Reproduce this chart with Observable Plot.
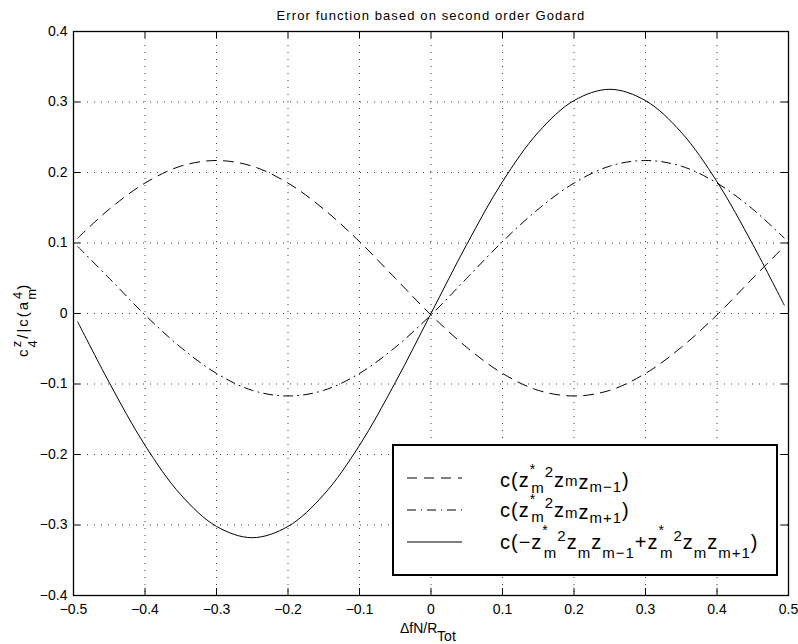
<!DOCTYPE html>
<html><head><meta charset="utf-8">
<script src="https://cdn.jsdelivr.net/npm/d3@7"></script>
<script src="https://cdn.jsdelivr.net/npm/@observablehq/plot@0.6"></script>
<style>body{margin:0;background:#fff}</style>
</head><body><div id="chart"></div>
<script>
const title = "Error function based on second order Godard";
const xs = [-0.494,-0.45,-0.4,-0.35,-0.3,-0.25,-0.2,-0.15,-0.1,-0.05,0,0.05,0.1,0.15,0.2,0.25,0.3,0.35,0.4,0.45,0.494];
const dashedVals  = [0.107,0.148,0.185,0.209,0.217,0.209,0.185,0.148,0.102,0.050,-0.002,-0.048,-0.085,-0.109,-0.117,-0.109,-0.085,-0.048,-0.002,0.050,0.095];
const dashdotVals = [0.095,0.050,-0.002,-0.048,-0.085,-0.109,-0.117,-0.109,-0.085,-0.048,-0.002,0.050,0.102,0.148,0.185,0.209,0.217,0.209,0.185,0.148,0.107];
const solidVals   = [-0.012,-0.098,-0.187,-0.257,-0.302,-0.318,-0.302,-0.257,-0.187,-0.098,0,0.098,0.187,0.257,0.302,0.318,0.302,0.257,0.187,0.098,0.012];
const xTicks = [-0.5,-0.4,-0.3,-0.2,-0.1,0,0.1,0.2,0.3,0.4,0.5];
const xTickLabels = ["\u22120.5","\u22120.4","\u22120.3","\u22120.2","\u22120.1","0","0.1","0.2","0.3","0.4","0.5"];
const yTicks = [-0.4,-0.3,-0.2,-0.1,0,0.1,0.2,0.3,0.4];
const yTickLabels = ["\u22120.4","\u22120.3","\u22120.2","\u22120.1","0","0.1","0.2","0.3","0.4"];

const W = 798, H = 644, ML = 73, MR = 10, MT = 31, MB = 49;
const xDom = [-0.5, 0.5], yDom = [-0.4, 0.4];
const tickPx = 7;
const tx = tickPx * (xDom[1]-xDom[0]) / (W-ML-MR);
const ty = tickPx * (yDom[1]-yDom[0]) / (H-MT-MB);
const xLab = new Map(xTicks.map((d,i)=>[d, xTickLabels[i]]));
const yLab = new Map(yTicks.map((d,i)=>[d, yTickLabels[i]]));
const rows = xs.map((x,i)=>({x, dashed: dashedVals[i], dashdot: dashdotVals[i], solid: solidVals[i]}));

const chart = Plot.plot({
  width: W, height: H,
  marginLeft: ML, marginRight: MR, marginTop: MT, marginBottom: MB,
  x: {domain: xDom}, y: {domain: yDom},
  style: {fontFamily: '"Liberation Sans", Arial, sans-serif', fontSize: "14px", background: "white", color: "black"},
  marks: [
    Plot.gridX(xTicks, {stroke: "#000", strokeOpacity: 0.75, strokeDasharray: "1,6"}),
    Plot.gridY(yTicks, {stroke: "#000", strokeOpacity: 0.75, strokeDasharray: "1,6"}),
    Plot.axisX(xTicks, {tickSize: 0, tickPadding: 9, tickFormat: d => xLab.get(d), label: null}),
    Plot.axisY(yTicks, {tickSize: 0, tickPadding: 6, tickFormat: d => yLab.get(d), label: null}),
    Plot.ruleX(xTicks, {x: d => d, y1: yDom[0], y2: yDom[0] + ty, stroke: "black"}),
    Plot.ruleX(xTicks, {x: d => d, y1: yDom[1] - ty, y2: yDom[1], stroke: "black"}),
    Plot.ruleY(yTicks, {y: d => d, x1: xDom[0], x2: xDom[0] + tx, stroke: "black"}),
    Plot.ruleY(yTicks, {y: d => d, x1: xDom[1] - tx, x2: xDom[1], stroke: "black"}),
    Plot.line(rows, {x: "x", y: "dashed", curve: "catmull-rom", stroke: "black", strokeWidth: 1, strokeDasharray: "10,7"}),
    Plot.line(rows, {x: "x", y: "dashdot", curve: "catmull-rom", stroke: "black", strokeWidth: 1, strokeDasharray: "9,5,1,5"}),
    Plot.line(rows, {x: "x", y: "solid", curve: "catmull-rom", stroke: "black", strokeWidth: 1}),
    Plot.frame({stroke: "black", strokeWidth: 1.3}),
    Plot.text([title], {frameAnchor: "top", dy: -12, lineAnchor: "bottom", fontSize: 13, text: d => d})
  ]
});
document.getElementById("chart").appendChild(chart);
const svg = d3.select(chart);
svg.selectAll("text").filter(function(){return this.textContent === title;}).style("letter-spacing", "1.1px");

function rich(g, x, y, parts, opts = {}) {
  const grp = g.append("g").attr("transform", opts.transform || `translate(${x},${y})`);
  const t = grp.append("text").attr("x", 0).attr("y", 0).attr("fill", "black")
    .attr("text-anchor", "start")
    .style("font-family", '"Liberation Sans", Arial, sans-serif');
  if (opts.ls) t.style("letter-spacing", opts.ls);
  let prev = 0;
  for (const p of parts) {
    const ts = t.append("tspan").text(p.t).attr("font-size", p.s).attr("dy", p.o - prev);
    if (p.dx) ts.attr("dx", p.dx);
    prev = p.o;
  }
  return t;
}

// Legend
const lg = svg.append("g");
lg.append("rect").attr("x", 393).attr("y", 445).attr("width", 384).attr("height", 130)
  .attr("fill", "white").attr("stroke", "black").attr("stroke-width", 2);
const legRows = [
  {y: 478, dash: "10,7"},
  {y: 510, dash: "9,5,1,5"},
  {y: 542, dash: null}
];
legRows.forEach(r => {
  const l = lg.append("line").attr("x1", 407).attr("x2", 462).attr("y1", r.y).attr("y2", r.y)
    .attr("stroke", "black").attr("stroke-width", 1);
  if (r.dash) l.attr("stroke-dasharray", r.dash);
});
const M = 20, S = 15, ST = 14;
rich(lg, 500, 487, [
  {t: "c(z", s: M, o: 0}, {t: "*", s: ST, o: -13}, {t: "m", s: S, o: 6, dx: -5}, {t: "2", s: S, o: -10},
  {t: "z", s: M, o: 0}, {t: "m", s: S, o: -1}, {t: "z", s: M, o: 2}, {t: "m\u22121", s: S, o: 5}, {t: ")", s: M, o: 0}
], {ls: "1px"});
rich(lg, 500, 517, [
  {t: "c(z", s: M, o: 0}, {t: "*", s: ST, o: -13}, {t: "m", s: S, o: 5, dx: -5}, {t: "2", s: S, o: -9},
  {t: "z", s: M, o: 0}, {t: "m", s: S, o: 1}, {t: "z", s: M, o: 2}, {t: "m+1", s: S, o: 6}, {t: ")", s: M, o: 0}
], {ls: "1px"});
rich(lg, 500, 549, [
  {t: "c(\u2212z", s: M, o: 0}, {t: "*", s: ST, o: -14}, {t: "m", s: S, o: 9, dx: -5}, {t: "2", s: S, o: -8},
  {t: "z", s: M, o: 0}, {t: "m", s: S, o: 9}, {t: "z", s: M, o: 0}, {t: "m\u22121", s: S, o: 9},
  {t: "+z", s: M, o: 0}, {t: "*", s: ST, o: -14}, {t: "m", s: S, o: 9, dx: -5}, {t: "2", s: S, o: -8},
  {t: "z", s: M, o: 0}, {t: "m", s: S, o: 9}, {t: "z", s: M, o: 0}, {t: "m+1", s: S, o: 9}, {t: ")", s: M, o: 0}
], {ls: "1px"});

// Axis labels
rich(svg, 400, 633, [{t: "\u0394fN/R", s: 14, o: 0}, {t: "Tot", s: 14, o: 8}]);
rich(svg, 0, 0, [
  {t: "c", s: 15, o: 0}, {t: "4", s: 13, o: 9}, {t: "z", s: 13, o: -7, dx: -9},
  {t: "/|c(a", s: 15, o: 0}, {t: "m", s: 13, o: 8}, {t: "4", s: 13, o: -6, dx: -12}, {t: ")", s: 15, o: 0}
], {transform: "translate(28,357) rotate(-90)", ls: "2px"});
</script>
</body></html>
